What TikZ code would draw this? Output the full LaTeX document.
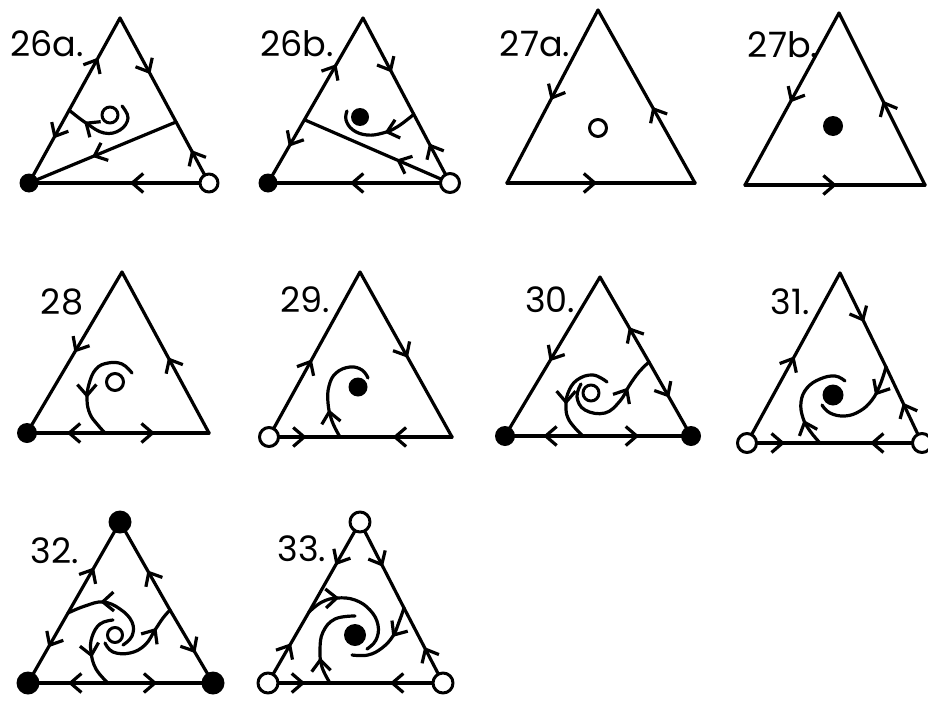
\documentclass[tikz,border=0pt]{standalone}
\usepackage{fontspec}
\setmainfont{Poppins}
\usetikzlibrary{arrows.meta,decorations.markings}
\tikzset{
  bb/.tip={Straight Barb[length=11pt,width=19pt]},
  fwd/.style={postaction={decorate,decoration={markings,mark=at position #1 with {\arrow{bb}}}}},
  bwd/.style={postaction={decorate,decoration={markings,mark=at position #1 with {\arrowreversed{bb}}}}},
  fdot/.style={circle,fill=black,draw=none,inner sep=0pt,minimum size=#1},
  odot/.style={circle,draw=black,fill=white,line width=3pt,inner sep=0pt,minimum size=#1},
  lab/.style={font=\fontsize{35}{40}\selectfont,inner sep=0pt},
  traj/.style={line width=3.2pt,line cap=round,line join=round},
}
\begin{document}
\begin{tikzpicture}[x=1pt,y=-1pt,line width=3.2pt,line cap=round,line join=round]
\useasboundingbox (0,0) rectangle (928,701);
% ---------- 26a
\coordinate (p1A) at (120,18); \coordinate (p1L) at (29,183); \coordinate (p1R) at (209,183);
\coordinate (p1Q) at (176,122);
\draw[fwd=0.76,bwd=0.27] (p1L) -- (p1A);
\draw[fwd=0.34,bwd=0.80] (p1A) -- (p1R);
\draw[fwd=0.44] (p1R) -- (p1L);
\draw[fwd=0.57] (p1Q) -- (p1L);
\draw[traj,fwd=0.78] plot[smooth,tension=0.7] coordinates {(122,106) (128,118) (120,130) (104,133) (86,123) (69,110)};
\node[odot=16] (c1) at (110,115) {};
\node[fdot=19] (v1L) at (p1L) {};
\node[odot=18] (v1R) at (p1R) {};
\node[lab] (t1) at (47,44) {26a.};
% ---------- 26b
\coordinate (p2A) at (363,18); \coordinate (p2L) at (268,183); \coordinate (p2R) at (450,183);
\coordinate (p2Q) at (305,120);
\draw[fwd=0.72,bwd=0.22] (p2L) -- (p2A);
\draw[fwd=0.33,bwd=0.76] (p2A) -- (p2R);
\draw[fwd=0.55] (p2R) -- (p2L);
\draw[fwd=0.37] (p2R) -- (p2Q);
\draw[traj,fwd=0.38] plot[smooth,tension=0.7] coordinates {(413,115) (397,127) (383,133) (367,135) (353,130) (346,120) (347,111)};
\node[fdot=18] (c2) at (360,117) {};
\node[fdot=19] (v2L) at (p2L) {};
\node[odot=19] (v2R) at (p2R) {};
\node[lab] (t2) at (297,44) {26b.};
% ---------- 27a
\coordinate (p3A) at (598,10); \coordinate (p3L) at (507,183); \coordinate (p3R) at (695,183);
\draw[fwd=0.52] (p3A) -- (p3L);
\draw[fwd=0.44] (p3R) -- (p3A);
\draw[fwd=0.48] (p3L) -- (p3R);
\node[odot=17] (c3) at (598,128) {};
\node[lab] (t3) at (535,44) {27a.};
% ---------- 27b
\coordinate (p4A) at (839,13); \coordinate (p4L) at (745,185); \coordinate (p4R) at (925,185);
\draw[fwd=0.52] (p4A) -- (p4L);
\draw[fwd=0.49] (p4R) -- (p4A);
\draw[fwd=0.51] (p4L) -- (p4R);
\node[fdot=20] (c4) at (833,126) {};
\node[lab] (t4) at (783,45) {27b.};
% ---------- 28
\coordinate (p5A) at (122,272); \coordinate (p5L) at (27,433); \coordinate (p5R) at (209,433);
\coordinate (p5S) at (105,433);
\draw[fwd=0.50] (p5A) -- (p5L);
\draw[fwd=0.47] (p5R) -- (p5A);
\draw[fwd=0.49] (p5S) -- (p5L);
\draw[fwd=0.48] (p5S) -- (p5R);
\draw[traj,fwd=0.64] plot[smooth,tension=0.7] coordinates {(132,373) (122,364) (108,363) (96,369) (89,384) (87,400) (90,414) (97,424) (105,433)};
\node[odot=17] (c5) at (115,382) {};
\node[fdot=20] (v5L) at (p5L) {};
\node[lab] (t5) at (62,302) {28};
% ---------- 29
\coordinate (p6A) at (360,272); \coordinate (p6L) at (269,437); \coordinate (p6R) at (452,437);
\coordinate (p6S) at (340,437);
\draw[fwd=0.47] (p6L) -- (p6A);
\draw[fwd=0.52] (p6A) -- (p6R);
\draw[fwd=0.53] (p6L) -- (p6S);
\draw[fwd=0.53] (p6R) -- (p6S);
\draw[traj,fwd=0.28] plot[smooth,tension=0.7] coordinates {(340,437) (332,421) (328,403) (329,386) (336,373) (350,367) (362,370) (368,378)};
\node[fdot=19] (c6) at (358,387) {};
\node[odot=19] (v6L) at (p6L) {};
\node[lab] (t6) at (305,300) {29.};
% ---------- 30
\coordinate (p7A) at (600,277); \coordinate (p7L) at (505,436); \coordinate (p7R) at (691,436);
\coordinate (p7Q) at (649,362); \coordinate (p7S) at (583,436);
\draw[fwd=0.53] (p7A) -- (p7L);
\draw[fwd=0.41] (p7Q) -- (p7A);
\draw[fwd=0.48] (p7Q) -- (p7R);
\draw[fwd=0.51] (p7S) -- (p7L);
\draw[fwd=0.52] (p7S) -- (p7R);
\draw[traj,fwd=0.72] plot[smooth,tension=0.7] coordinates {(581,384) (577,397) (585,410) (605,413) (620,401) (629,386) (639,372) (649,362)};
\draw[traj,fwd=0.62] plot[smooth,tension=0.7] coordinates {(607,382) (593,375) (577,380) (568,393) (566,407) (568,418) (575,428) (583,436)};
\node[odot=16] (c7) at (591,393) {};
\node[fdot=20] (v7L) at (p7L) {};
\node[fdot=20] (v7R) at (p7R) {};
\node[lab] (t7) at (550,300) {30.};
% ---------- 31
\coordinate (p8A) at (840,273); \coordinate (p8L) at (747,443); \coordinate (p8R) at (922,443);
\coordinate (p8Q) at (886,367); \coordinate (p8S) at (820,443);
\draw[fwd=0.51] (p8L) -- (p8A);
\draw[fwd=0.52] (p8A) -- (p8Q);
\draw[fwd=0.53] (p8R) -- (p8Q);
\draw[fwd=0.52] (p8L) -- (p8S);
\draw[fwd=0.51] (p8R) -- (p8S);
\draw[traj,fwd=0.32] plot[smooth,tension=0.7] coordinates {(886,367) (880,385) (872,400) (860,411) (845,416) (830,413) (822,405)};
\draw[traj,fwd=0.27] plot[smooth,tension=0.7] coordinates {(820,443) (810,431) (803,418) (801,402) (807,388) (820,379) (835,376) (845,381)};
\node[fdot=21] (c8) at (833,395) {};
\node[odot=19] (v8L) at (p8L) {};
\node[odot=19] (v8R) at (p8R) {};
\node[lab] (t8) at (790,302) {31.};
% ---------- 32
\coordinate (p9A) at (120,522); \coordinate (p9L) at (28,683); \coordinate (p9R) at (213,683);
\coordinate (p9P) at (68,613); \coordinate (p9Q) at (170,610); \coordinate (p9S) at (108,683);
\draw[fwd=0.50] (p9P) -- (p9A);
\draw[fwd=0.49] (p9P) -- (p9L);
\draw[fwd=0.45] (p9Q) -- (p9A);
\draw[fwd=0.59] (p9Q) -- (p9R);
\draw[fwd=0.50] (p9S) -- (p9L);
\draw[fwd=0.47] (p9S) -- (p9R);
\draw[traj,fwd=0.66] plot[smooth,tension=0.7] coordinates {(123,645) (132,636) (132,622) (120,609) (103,602) (85,606) (68,613)};
\draw[traj,fwd=0.75] plot[smooth,tension=0.7] coordinates {(105,643) (113,652) (130,653) (145,645) (155,630) (163,618) (170,610)};
\draw[traj,fwd=0.62] plot[smooth,tension=0.7] coordinates {(113,620) (100,624) (92,637) (91,652) (96,669) (108,683)};
\node[odot=15] (c9) at (115,635) {};
\node[fdot=23] (v9A) at (p9A) {};
\node[fdot=23] (v9L) at (p9L) {};
\node[fdot=23] (v9R) at (p9R) {};
\node[lab] (t9) at (55,551) {32.};
% ---------- 33
\coordinate (p10A) at (360,522); \coordinate (p10L) at (268,683); \coordinate (p10R) at (443,683);
\coordinate (p10P) at (309,612); \coordinate (p10Q) at (404,608); \coordinate (p10S) at (330,683);
\draw[fwd=0.48] (p10A) -- (p10P);
\draw[fwd=0.56] (p10L) -- (p10P);
\draw[fwd=0.52] (p10A) -- (p10Q);
\draw[fwd=0.48] (p10R) -- (p10Q);
\draw[fwd=0.60] (p10L) -- (p10S);
\draw[fwd=0.47] (p10R) -- (p10S);
\draw[traj,fwd=0.30] plot[smooth,tension=0.7] coordinates {(309,612) (322,602) (337,598) (355,600) (370,610) (378,625) (376,640) (367,649)};
\draw[traj,fwd=0.40] plot[smooth,tension=0.7] coordinates {(404,608) (399,622) (393,636) (382,648) (368,655) (352,655)};
\draw[traj,fwd=0.30] plot[smooth,tension=0.7] coordinates {(330,683) (322,667) (320,650) (323,632) (335,619) (355,616)};
\node[fdot=22] (c10) at (355,635) {};
\node[odot=20] (v10A) at (p10A) {};
\node[odot=20] (v10L) at (p10L) {};
\node[odot=20] (v10R) at (p10R) {};
\node[lab] (t10) at (302,549) {33.};
\end{tikzpicture}
\end{document}
